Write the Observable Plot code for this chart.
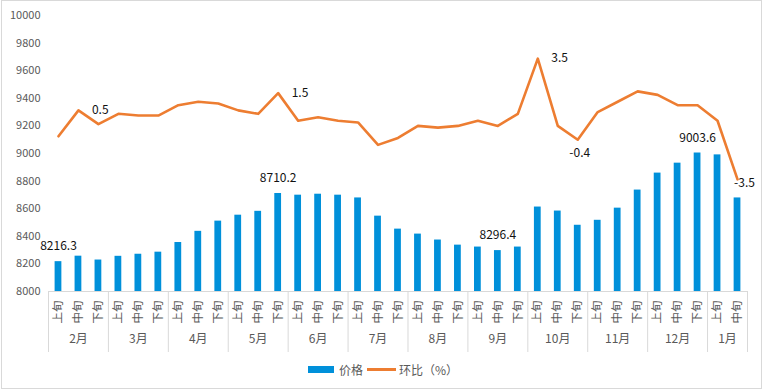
<!DOCTYPE html>
<html><head><meta charset="utf-8">
<script src="https://cdn.jsdelivr.net/npm/d3@7"></script>
<script src="https://cdn.jsdelivr.net/npm/@observablehq/plot@0.6"></script>
<style>
body{margin:0;background:#fff;}
#wrap{position:relative;width:763px;height:391px;overflow:hidden;font-family:"Noto Sans CJK SC","Noto Sans",sans-serif;}
#frame{position:absolute;left:1px;top:0;width:759px;height:387px;border:1px solid #d9d9d9;}
#chart{position:absolute;left:0;top:0;}
#legend{position:absolute;left:308px;top:359px;height:20px;display:flex;align-items:center;font-size:12px;color:#595959;white-space:nowrap;}
.sw-bar{width:26px;height:7px;background:#0090DA;margin-right:5px;}
.sw-line{width:29px;height:3px;background:#ED7D31;margin-right:3px;margin-left:4px;}
</style></head><body>
<div id="wrap"><div id="frame"></div><div id="chart"></div>
<div id="legend"><div class="sw-bar"></div><span>价格</span><div class="sw-line"></div><span>环比（%）</span></div>
</div>
<script>
const months = ["2月","3月","4月","5月","6月","7月","8月","9月","10月","11月","12月","1月"];
const periodsPerMonth = [3,3,3,3,3,3,3,3,3,3,3,2];
const tenDays = ["上旬","中旬","下旬"];
const price = [8216.3, 8256, 8228, 8255, 8270, 8285, 8355, 8436, 8510, 8553, 8581, 8710.2,
  8698, 8705, 8698, 8678, 8546, 8452, 8416, 8373, 8336, 8322, 8296.4, 8322,
  8612, 8583, 8480, 8516, 8604, 8735, 8858, 8930, 9003.6, 8990, 8678];
const pct = [-1.0, 0.5, -0.3, 0.3, 0.2, 0.2, 0.8, 1.0, 0.9, 0.5, 0.3, 1.5,
  -0.1, 0.1, -0.1, -0.2, -1.5, -1.1, -0.4, -0.5, -0.4, -0.1, -0.4, 0.3,
  3.5, -0.4, -1.2, 0.4, 1.0, 1.6, 1.4, 0.8, 0.8, -0.1, -3.5];
const priceLabelIdx = [0, 11, 22, 32];
const pctLabelRightIdx = [1, 11, 24];
const pctLabelBelowIdx = [25];
const pctLabelEndIdx = [34];
const priceAxisTicks = [8000,8200,8400,8600,8800,9000,9200,9400,9600,9800,10000];
const priceDomain = [8000, 10000];
const pctDomain = [-10, 6];

const rows = [];
months.forEach((m, k) => {
  for (let j = 0; j < periodsPerMonth[k]; j++) rows.push({m, d: tenDays[j]});
});
rows.forEach((r, i) => { r.i = i; r.price = price[i]; r.pct = pct[i]; });
const spans = [];
let s = 0;
months.forEach((m, k) => { spans.push({m, start: s, end: s + periodsPerMonth[k]}); s += periodsPerMonth[k]; });
const bounds = [0, ...spans.map(d => d.end)];
const pctScale = d3.scaleLinear(pctDomain, priceDomain);
const cx = d => d.i + 0.5;
const gray = "#595959";

const plot = Plot.plot({
  width: 763, height: 356,
  marginLeft: 48, marginRight: 16, marginTop: 15, marginBottom: 65,
  style: {fontFamily: '"Noto Sans CJK SC","Noto Sans",sans-serif', fontSize: "11px", color: gray, background: "transparent"},
  x: {type: "linear", domain: [0, rows.length]},
  y: {domain: priceDomain},
  marks: [
    Plot.axisY({ticks: priceAxisTicks, tickSize: 0, tickPadding: 8, tickFormat: d => String(d), fill: gray, fontSize: 11, label: null}),
    Plot.ruleY([priceDomain[0]], {stroke: "#d9d9d9", strokeWidth: 1}),
    Plot.axisX({ticks: bounds, tickSize: 61, fill: "none", stroke: "#d9d9d9", label: null, tickFormat: () => ""}),
    Plot.rectY(rows, {x1: "i", x2: d => d.i + 1, y1: priceDomain[0], y2: "price", insetLeft: 6.6, insetRight: 6.6, fill: "#0090DA"}),
    Plot.lineY(rows, {x: cx, y: d => pctScale(d.pct), stroke: "#ED7D31", strokeWidth: 2.6, strokeLinejoin: "round"}),
    Plot.text(rows, {x: cx, text: "d", frameAnchor: "bottom", dy: 9, rotate: -90, textAnchor: "end", lineAnchor: "middle", fill: gray, fontSize: 11.5}),
    Plot.text(spans, {x: d => (d.start + d.end) / 2, text: "m", frameAnchor: "bottom", dy: 51, fill: gray, fontSize: 12}),
    Plot.text(rows.filter(d => priceLabelIdx.includes(d.i)), {x: cx, y: "price", text: d => d.price.toFixed(1), dy: -15, fill: "#111", fontSize: 12}),
    Plot.text(rows.filter(d => pctLabelRightIdx.includes(d.i)), {x: cx, y: d => pctScale(d.pct), text: d => d.pct.toFixed(1), dx: 13.5, textAnchor: "start", fill: "#111", fontSize: 12}),
    Plot.text(rows.filter(d => pctLabelBelowIdx.includes(d.i)), {x: cx, y: d => pctScale(d.pct), text: d => d.pct.toFixed(1), dx: 11.6, dy: 27, textAnchor: "start", fill: "#111", fontSize: 12}),
    Plot.text(rows.filter(d => pctLabelEndIdx.includes(d.i)), {x: cx, y: d => pctScale(d.pct), text: d => d.pct.toFixed(1), dx: -3.4, dy: 4, textAnchor: "start", fill: "#111", fontSize: 12})
  ]
});
document.getElementById("chart").appendChild(plot);
</script>
</body></html>
